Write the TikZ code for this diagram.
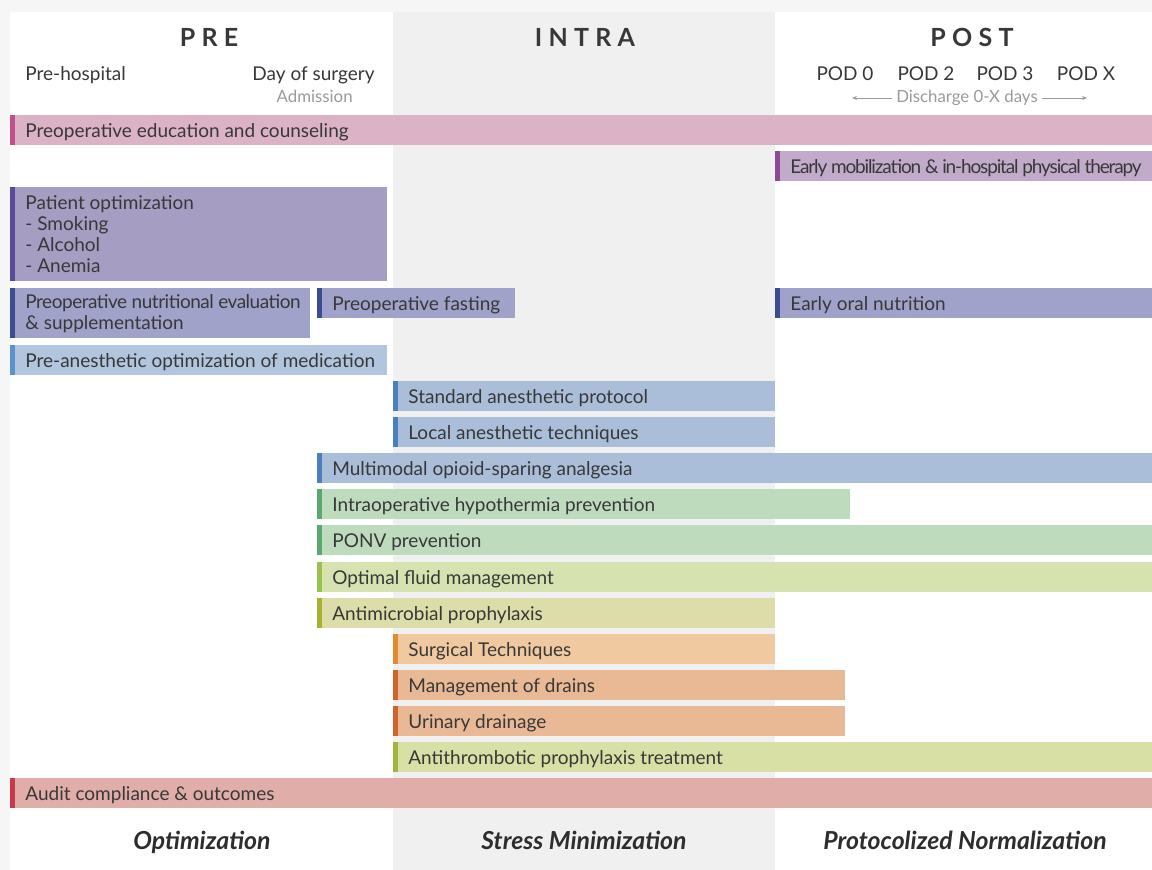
\documentclass[tikz,border=0pt]{standalone}
\usepackage{fontspec}
\setmainfont{Lato}
\usetikzlibrary{arrows.meta}
\definecolor{outergray}{HTML}{F6F6F6}
\definecolor{intragray}{HTML}{F0F0F0}
\definecolor{txt}{HTML}{383838}
\definecolor{lightt}{HTML}{9A9A9A}
\definecolor{edufill}{HTML}{DCB2C6}\definecolor{eduacc}{HTML}{C0508C}
\definecolor{mobfill}{HTML}{C2AACB}\definecolor{mobacc}{HTML}{8C4B94}
\definecolor{patfill}{HTML}{A59DC2}\definecolor{patacc}{HTML}{5B4A99}
\definecolor{nutfill}{HTML}{A0A2C9}\definecolor{nutacc}{HTML}{3C4C92}
\definecolor{panfill}{HTML}{B1C5DE}\definecolor{panacc}{HTML}{5A92C9}
\definecolor{anfill}{HTML}{AABEDA}\definecolor{anacc}{HTML}{4A80C0}
\definecolor{grfill}{HTML}{BFDBBE}\definecolor{gracc}{HTML}{5AA772}
\definecolor{flfill}{HTML}{D6E3B0}\definecolor{flacc}{HTML}{98C24E}
\definecolor{amfill}{HTML}{DCDDA8}\definecolor{amacc}{HTML}{A9B130}
\definecolor{sufill}{HTML}{F0C9A0}\definecolor{suacc}{HTML}{E38A2E}
\definecolor{drfill}{HTML}{E9B995}\definecolor{dracc}{HTML}{D3622D}
\definecolor{thfill}{HTML}{D8E0A6}\definecolor{thacc}{HTML}{A3B53E}
\definecolor{aufill}{HTML}{E1ADA8}\definecolor{auacc}{HTML}{C8384F}
\tikzset{
  barbox/.style={rectangle, inner sep=0pt, outer sep=0pt, draw=none},
  bartext/.style={inner sep=0pt, text=txt, align=left, font=\fontsize{9.5pt}{10.5pt}\selectfont},
  phase/.style={text=txt, inner sep=0pt, anchor=base, font=\fontsize{12.5pt}{14pt}\selectfont\bfseries\addfontfeatures{LetterSpace=25}},
  sub/.style={text=txt, inner sep=0pt, anchor=base, font=\fontsize{9.5pt}{11pt}\selectfont},
  subl/.style={text=lightt, inner sep=0pt, anchor=base, font=\fontsize{8.4pt}{10pt}\selectfont},
  goal/.style={text=txt!80!black, inner sep=0pt, anchor=base, font=\fontsize{12.4pt}{14pt}\selectfont\bfseries\itshape},
  darr/.style={draw=lightt, line width=0.4pt, -{Stealth[length=2.5pt,width=2pt]}}
}
% single-line bar
\newcommand\ebar[8]{%
  \node[barbox, fill=#6, minimum width={(#4-#2)*0.5pt}, minimum height={(#5-#3)*0.5pt}, anchor=north west] (#1) at (#2,#3) {};
  \fill[#7] (#1.north west) rectangle ([xshift=2.5pt]#1.south west);
  \node[bartext, anchor=base west] (#1-t) at ([xshift=7.5pt,yshift=-3.7pt]#1.west) {#8};
}
% multi-line bar
\newcommand\ebarm[8]{%
  \node[barbox, fill=#6, minimum width={(#4-#2)*0.5pt}, minimum height={(#5-#3)*0.5pt}, anchor=north west] (#1) at (#2,#3) {};
  \fill[#7] (#1.north west) rectangle ([xshift=2.5pt]#1.south west);
  \node[bartext, anchor=west] (#1-t) at ([xshift=7.5pt,yshift=-0.2pt]#1.west) {#8};
}
\begin{document}
\begin{tikzpicture}[x=0.5pt,y=-0.5pt]
\useasboundingbox (0,0) rectangle (1152,870);
\fill[outergray] (0,0) rectangle (1152,870);
\fill[white] (10,12) rectangle (1152,870);
\fill[intragray] (393,12) rectangle (775,870);
% header
\node[phase] (pre) at (209,47) {PRE};
\node[phase] (intra) at (585,47) {INTRA};
\node[phase] (post) at (972,47) {POST};
\node[sub, anchor=base west] (prehosp) at (25,81) {Pre-hospital};
\node[sub, anchor=base east] (dos) at (375,81) {Day of surgery};
\node[subl, anchor=base east] (adm) at (353,103) {Admission};
\node[sub] (pod0) at (845,81) {POD 0};
\node[sub] (pod2) at (926,81) {POD 2};
\node[sub] (pod3) at (1005,81) {POD 3};
\node[sub] (podx) at (1086,81) {POD X};
\node[subl] (dis) at (967,103) {Discharge 0-X days};
\coordinate (dl) at (852,98);
\coordinate (dr) at (1087,98);
\draw[darr] (dis.west |- dl) ++(-2pt,0) -- (dl);
\draw[darr] (dis.east |- dr) ++(2pt,0) -- (dr);
% bars
\ebar{edu}{10}{115}{1152}{145}{edufill}{eduacc}{Preoperative education and counseling}
\ebar{mob}{775}{151}{1152}{181}{mobfill}{mobacc}{\addfontfeatures{LetterSpace=-6}Early mobilization \& in-hospital physical therapy}
\ebarm{pat}{10}{187}{387}{281}{patfill}{patacc}{Patient optimization\\- Smoking\\- Alcohol\\- Anemia}
\ebarm{nut}{10}{288}{310}{338}{nutfill}{nutacc}{\addfontfeatures{LetterSpace=-2.5}Preoperative nutritional evaluation\\\& supplementation}
\ebar{fast}{317}{288}{515}{318}{nutfill}{nutacc}{Preoperative fasting}
\ebar{oral}{775}{288}{1152}{318}{nutfill}{nutacc}{Early oral nutrition}
\ebar{pan}{10}{345}{387}{375}{panfill}{panacc}{Pre-anesthetic optimization of medication}
\ebar{std}{393}{381}{775}{411}{anfill}{anacc}{Standard anesthetic protocol}
\ebar{loc}{393}{417}{775}{447}{anfill}{anacc}{Local anesthetic techniques}
\ebar{mult}{317}{453}{1152}{483}{anfill}{anacc}{Multimodal opioid-sparing analgesia}
\ebar{hyp}{317}{489}{850}{519}{grfill}{gracc}{Intraoperative hypothermia prevention}
\ebar{ponv}{317}{525}{1152}{555}{grfill}{gracc}{PONV prevention}
\ebar{fluid}{317}{562}{1152}{592}{flfill}{flacc}{Optimal fluid management}
\ebar{anti}{317}{598}{775}{628}{amfill}{amacc}{Antimicrobial prophylaxis}
\ebar{surg}{393}{634}{775}{664}{sufill}{suacc}{Surgical Techniques}
\ebar{drain}{393}{670}{845}{700}{drfill}{dracc}{Management of drains}
\ebar{uri}{393}{706}{845}{736}{drfill}{dracc}{Urinary drainage}
\ebar{thr}{393}{742}{1152}{772}{thfill}{thacc}{Antithrombotic prophylaxis treatment}
\ebar{aud}{10}{778}{1152}{808}{aufill}{auacc}{Audit compliance \& outcomes}
% goals
\node[goal] (g1) at (202,850) {Optimization};
\node[goal] (g2) at (584,850) {Stress Minimization};
\node[goal] (g3) at (965,850) {Protocolized Normalization};
\end{tikzpicture}
\end{document}
